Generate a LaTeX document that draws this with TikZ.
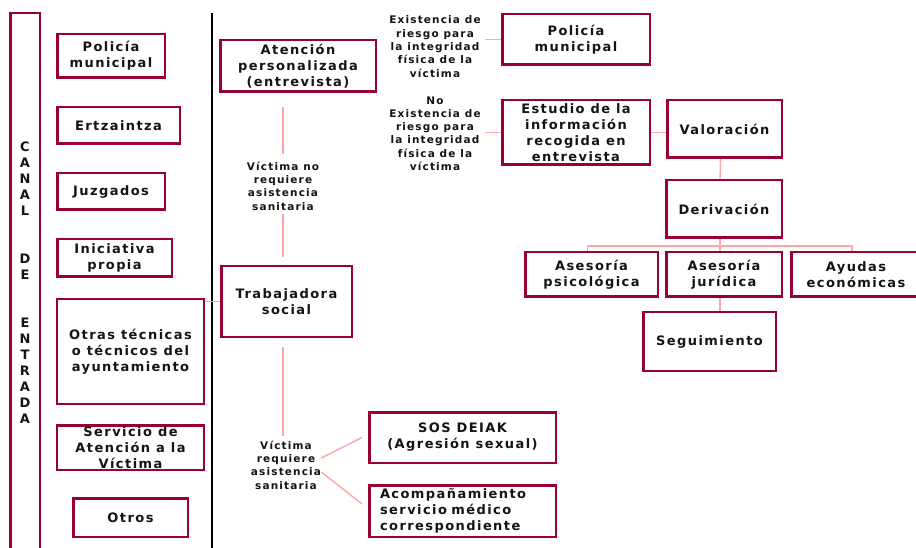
\documentclass[tikz,border=0pt]{standalone}
\usepackage{fontspec}
\setmainfont{DejaVu Sans}
\newfontfamily\vfont[LetterSpace=11]{DejaVu Sans}
\newcommand\bxfont{\vfont\bfseries\fontsize{13bp}{16bp}\selectfont}
\newcommand\lbfont{\vfont\bfseries\fontsize{10.5bp}{13.3bp}\selectfont}
\definecolor{boxred}{RGB}{153,0,51}
\definecolor{linkpink}{RGB}{255,165,165}
\definecolor{ink}{RGB}{20,20,20}
\begin{document}
\begin{tikzpicture}[x=1bp,y=-1bp,
  box/.style={draw=boxred, line width=2.5bp, inner sep=0pt, align=center, font=\bxfont, text=ink},
  lbl/.style={inner sep=0pt, align=center, font=\lbfont, text=ink},
  conn/.style={draw=linkpink, line width=1.4bp}]
\useasboundingbox (0,0) rectangle (916,548);
\clip (0,0) rectangle (916,548);
\fill[white] (0,0) rectangle (916,548);
% entry channel column
\node[box, minimum width=29bp, minimum height=547bp] (canal) at (25.25,286.5) {};
\node[inner sep=0pt, align=center, font=\bxfont, text=ink] (canaltxt) at (25,283)
  {C\\A\\N\\A\\L\\[32bp]D\\E\\[32bp]E\\N\\T\\R\\A\\D\\A};
\draw[line width=1.2bp, black] (212,13) -- (212,548);
% left column
\node[box, minimum width=107.5bp, minimum height=43.5bp] (lpol) at (111,56) {Policía\\municipal};
\node[box, minimum width=122.5bp, minimum height=36.5bp] (ertz) at (118.5,125.5) {Ertzaintza};
\node[box, minimum width=107.5bp, minimum height=36.5bp] (juzg) at (111,191.5) {Juzgados};
\node[box, minimum width=114.5bp, minimum height=37.5bp] (inic) at (114.5,258) {Iniciativa\\propia};
\node[box, minimum width=146.5bp, minimum height=104.5bp] (otras) at (130.5,351.5) {Otras técnicas\\o técnicos del\\ayuntamiento};
\node[box, minimum width=146.5bp, minimum height=44.5bp] (serv) at (130.5,447.5) {Servicio de\\Atención a la\\Víctima};
\node[box, minimum width=114.5bp, minimum height=38.5bp] (otros) at (130.5,517.5) {Otros};
% middle
\node[box, minimum width=155.5bp, minimum height=51.5bp] (aten) at (298,66) {Atención\\personalizada\\(entrevista)};
\node[lbl] (label1) at (283,186) {Víctima no\\requiere\\asistencia\\sanitaria};
\node[box, minimum width=130.5bp, minimum height=70.5bp] (trab) at (286.5,301.5) {Trabajadora\\social};
\node[lbl] (label2) at (286,465) {Víctima\\requiere\\asistencia\\sanitaria};
\node[box, minimum width=186.5bp, minimum height=50.5bp] (sos) at (462.5,437.5) {SOS DEIAK\\(Agresión sexual)};
\node[box, minimum width=186.5bp, minimum height=51.5bp, text width=165bp, align=left] (acomp) at (462.5,511) {Acompañamiento\\servicio médico\\correspondiente};
% right
\node[lbl] (label3) at (435,46.5) {Existencia de\\riesgo para\\la integridad\\física de la\\víctima};
\node[lbl] (label4) at (435,133.5) {No\\Existencia de\\riesgo para\\la integridad\\física de la\\víctima};
\node[box, minimum width=147.5bp, minimum height=50.5bp] (rpol) at (576,39.5) {Policía\\municipal};
\node[box, minimum width=147.5bp, minimum height=64.5bp] (estud) at (576,132.5) {Estudio de la\\información\\recogida en\\entrevista};
\node[box, minimum width=114.5bp, minimum height=57.5bp] (valor) at (724.5,129) {Valoración};
\node[box, minimum width=115.5bp, minimum height=57.5bp] (deriv) at (724,209) {Derivación};
\node[box, minimum width=132.5bp, minimum height=44.5bp] (psico) at (591.5,274.5) {Asesoría\\psicológica};
\node[box, minimum width=115.5bp, minimum height=44.5bp] (jurid) at (724,274.5) {Asesoría\\jurídica};
\node[box, minimum width=129.5bp, minimum height=44.5bp] (ayud) at (856,274.5) {Ayudas\\económicas};
\node[box, minimum width=132.5bp, minimum height=58.5bp] (segui) at (709.5,341.5) {Seguimiento};
% connectors
\draw[conn, shorten <=14bp, shorten >=8bp] (aten.south -| label1.north) -- (label1.north);
\draw[conn, shorten <=4bp, shorten >=8bp] (label1.south) -- (trab.north -| label1.south);
\draw[conn, shorten <=9bp, shorten >=5bp] (trab.south -| label1.south) -- (label2.north -| label1.south);
\draw[conn] (otras.east |- trab.west) -- (trab.west);
\draw[conn] ([yshift=7bp]label2.east) -- ([xshift=-6bp]sos.west);
\draw[conn] ([yshift=-7bp]label2.east) -- ([xshift=-6bp,yshift=7bp]acomp.west);
\draw[conn, shorten <=4bp] (label3.east |- rpol.west) -- (rpol.west);
\draw[conn, shorten <=4bp] (label4.east |- estud.west) -- (estud.west);
\draw[conn] (estud.east) -- (valor.west |- estud.east);
\draw[conn] ([xshift=-4bp]valor.south) -- ([xshift=-4bp]deriv.north);
\draw[conn] ([xshift=-4bp]deriv.south) -- ++(0,7) coordinate (bus);
\draw[conn] ([xshift=-4bp]psico.north) -- ([xshift=-4bp]psico.north |- bus) -- ([xshift=-4bp]ayud.north |- bus) -- ([xshift=-4bp]ayud.north);
\draw[conn] (bus) -- (bus |- jurid.north);
\draw[conn] ([xshift=-4bp]jurid.south) -- ([xshift=-4bp]jurid.south |- segui.north);
\end{tikzpicture}
\end{document}
